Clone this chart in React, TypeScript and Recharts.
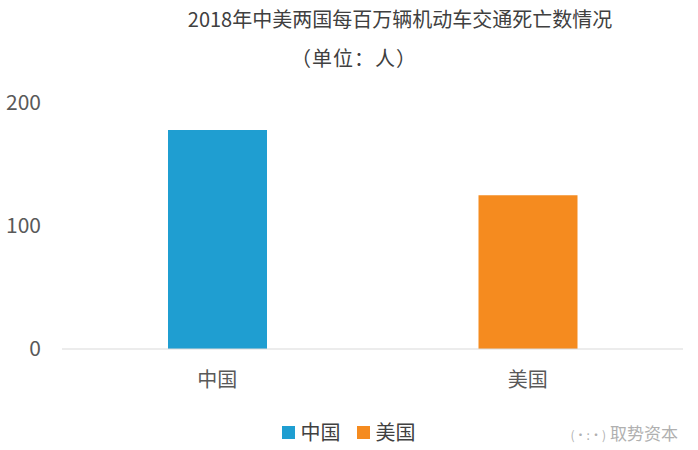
import { BarChart, Bar, XAxis, YAxis, Legend } from 'recharts';

const categories = ['中国', '美国'];
const deaths = [178, 125];
const colors = ['#1F9ED1', '#F58B1F'];
const yTicks = [0, 100, 200];

// one row per country, each country is its own series so the legend lists both
const data = categories.map((name, i) => ({ name, [name]: deaths[i] }));

const font = '"Noto Sans CJK SC", "Noto Sans", sans-serif';

const renderLegend = (props: any) => (
  <div style={{ display: 'flex', justifyContent: 'center', paddingLeft: 30, fontFamily: font }}>
    {(props.payload || []).map((item: any) => (
      <div key={item.value} style={{ display: 'flex', alignItems: 'center', marginRight: 16 }}>
        <span style={{ width: 13, height: 13, background: item.color, marginRight: 6 }} />
        <span style={{ fontSize: 20, color: '#404040', lineHeight: '24px' }}>{item.value}</span>
      </div>
    ))}
  </div>
);

export default function App() {
  return (
    <div style={{ position: 'absolute', left: 0, top: 0, width: 698, height: 450, background: '#fff', fontFamily: font }}>
      <div style={{ position: 'absolute', top: 4, left: 0, width: 800, textAlign: 'center', fontSize: 20, color: '#404040' }}>
        2018年中美两国每百万辆机动车交通死亡数情况
      </div>
      <div style={{ position: 'absolute', top: 43, left: 291, fontSize: 20, color: '#404040', letterSpacing: 1 }}>
        （单位：人）
      </div>
      <BarChart width={698} height={450} data={data} margin={{ top: 103, right: 15, bottom: 6, left: 0 }}>
        <XAxis
          dataKey="name"
          axisLine={{ stroke: '#d9d9d9' }}
          tickLine={false}
          tickSize={0}
          tickMargin={24}
          height={71}
          tick={{ fontSize: 20, fill: '#595959', fontFamily: font }}
        />
        <YAxis
          domain={[0, 200]}
          ticks={yTicks}
          axisLine={false}
          tickLine={false}
          tickSize={0}
          tickMargin={21}
          width={62}
          tick={{ fontSize: 21, fill: '#595959', fontFamily: font }}
        />
        <Legend verticalAlign="bottom" content={renderLegend} />
        {categories.map((name, i) => (
          <Bar key={name} dataKey={name} stackId="a" fill={colors[i]} barSize={99} isAnimationActive={false} />
        ))}
      </BarChart>
      <div style={{ position: 'absolute', right: 20, top: 420, fontSize: 17, color: '#b0b0b0', whiteSpace: 'nowrap' }}>
        <span style={{ fontSize: 12, marginRight: 4 }}>(·:·)</span>取势资本
      </div>
    </div>
  );
}
